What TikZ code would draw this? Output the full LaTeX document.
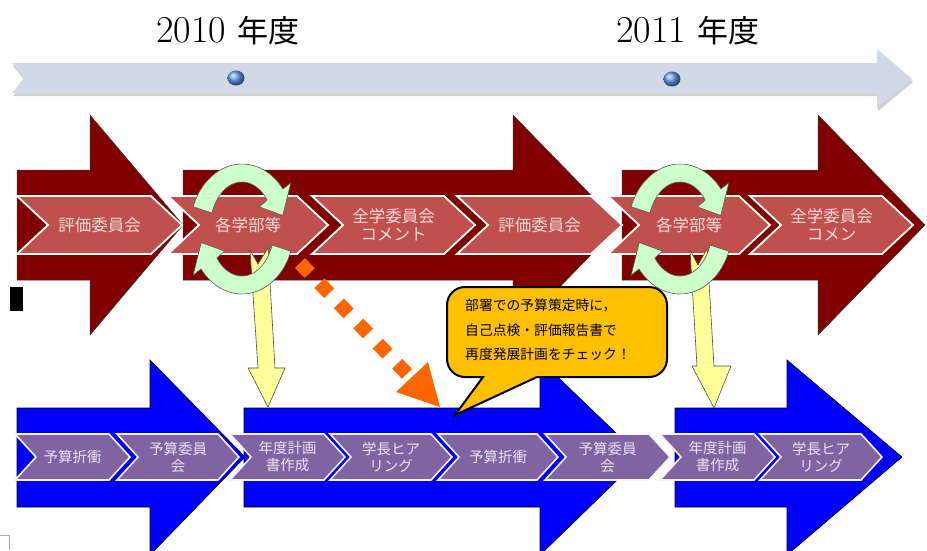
\documentclass[tikz,border=0pt]{standalone}
\usepackage{fontspec}
\newfontfamily\jp{Noto Sans CJK JP}
\definecolor{tlc}{RGB}{209,217,232}
\definecolor{maroonA}{RGB}{128,0,0}
\definecolor{chevRc}{RGB}{192,80,77}
\definecolor{chevPc}{RGB}{128,100,162}
\definecolor{txtRc}{RGB}{242,220,219}
\definecolor{txtPc}{RGB}{232,226,240}
\definecolor{grnc}{RGB}{204,255,204}
\definecolor{ylwc}{RGB}{255,255,153}
\definecolor{orgc}{RGB}{255,102,0}
\definecolor{bubc}{RGB}{255,192,0}
\definecolor{bluc}{RGB}{0,0,255}
\definecolor{dotc}{RGB}{100,160,235}
\tikzset{
  bigred/.style={fill=maroonA, draw=black!80, line width=0.5},
  bigblue/.style={fill=bluc, draw=black, line width=0.6},
  redchev/.style={fill=chevRc, draw=white, line width=1.8},
  purchev/.style={fill=chevPc, draw=white!92!chevPc, line width=1.6},
  redtxt/.style={text=txtRc, font=\jp\fontsize{16.5}{18}\selectfont, align=center, inner sep=0},
  purtxt/.style={text=txtPc, font=\jp\fontsize{14.5}{17}\selectfont, align=center, inner sep=0},
  grnarc/.style={fill=grnc, draw=black!65, line width=0.6},
  ylwarrow/.style={fill=ylwc, draw=black!70, line width=0.6},
  yeartxt/.style={inner sep=0, text=black},
}
\newcommand{\mkredchev}[4]{%
  \filldraw[redchev] (#1,196) -- ({#2-31},196) -- (#2,225) -- ({#2-31},254) -- (#1,254) -- ({#1+31},225) -- cycle;
  \node[redtxt] (#4) at ({(#1+#2)/2},225) {#3};}
\newcommand{\mkpurchev}[4]{%
  \filldraw[purchev] (#1,434) -- ({#2-21},434) -- (#2,457) -- ({#2-21},480) -- (#1,480) -- ({#1+21},457) -- cycle;
  \node[purtxt] (#4) at ({(#1+#2)/2},457) {#3};}
\newcommand{\mkgreenarc}[5]{%
  \begin{scope}[shift={(#1,#2)}]
  \filldraw[grnarc] (#3:52 and 65) arc[start angle=#3, end angle=#4, x radius=52, y radius=65]
    -- (#4:62 and 75) -- (#5:42 and 56) -- (#4:22 and 36) -- (#4:32 and 47)
    arc[start angle=#4, end angle=#3, x radius=32, y radius=47] -- cycle;
  \end{scope}}
\begin{document}
\begin{tikzpicture}[x=1pt,y=-1pt]
\useasboundingbox (0,0) rectangle (927,550);
\clip (0,0) rectangle (927,550);
\fill[white] (0,0) rectangle (927,550);

% year labels
\node[yeartxt] (y2010) at (228,31) {\fontsize{38}{40}\selectfont 2010 {\jp\fontsize{31}{34}\selectfont 年度}};
\node[yeartxt] (y2011) at (688,31) {\fontsize{38}{40}\selectfont 2011 {\jp\fontsize{31}{34}\selectfont 年度}};

% timeline
\fill[black!18] (13,66) -- (878,66) -- (878,52) -- (913,82) -- (878,111) -- (878,96) -- (13,96) -- (25,81) -- cycle;
\fill[tlc] (12,63) -- (877,63) -- (877,49) -- (912,79) -- (877,108) -- (877,93) -- (12,93) -- (24,78) -- cycle;
\shade[ball color=dotc] (236,78) ellipse[x radius=8.5, y radius=7.5];
\shade[ball color=dotc] (672,79) ellipse[x radius=8.5, y radius=7.5];

% big red arrows
\filldraw[bigred] (17,170) -- (90,170) -- (90,115) -- (183,225) -- (90,335) -- (90,280) -- (17,280) -- cycle;
\filldraw[bigred] (183,170) -- (513,170) -- (513,115) -- (620,225) -- (513,335) -- (513,280) -- (183,280) -- cycle;
\filldraw[bigred] (622,170) -- (818,170) -- (818,115) -- (925,225) -- (818,335) -- (818,280) -- (622,280) -- cycle;

% big blue arrows
\filldraw[bigblue] (17,408) -- (150,408) -- (150,360) -- (245,457) -- (150,555) -- (150,507) -- (17,507) -- cycle;
\filldraw[bigblue] (244,408) -- (540,408) -- (540,360) -- (641,457) -- (540,555) -- (540,507) -- (244,507) -- cycle;
\filldraw[bigblue] (675,408) -- (787,408) -- (787,360) -- (902,457) -- (787,555) -- (787,507) -- (675,507) -- cycle;

% red chevrons
\mkredchev{17}{182}{評価委員会}{r1}
\mkredchev{168}{328}{各学部等}{r2}
\mkredchev{312}{475}{全学委員会\\コメント}{r3}
\mkredchev{457}{622}{評価委員会}{r4}
\mkredchev{608}{770}{各学部等}{r5}
\mkredchev{750}{913}{全学委員会\\コメン}{r6}

% purple chevrons
\mkpurchev{15}{130}{予算折衝}{p1}
\mkpurchev{117}{239}{予算委員\\会}{p2}
\mkpurchev{230}{345}{年度計画\\書作成}{p3}
\mkpurchev{330}{452}{学長ヒア\\リング}{p4}
\mkpurchev{438}{558}{予算折衝}{p5}
\mkpurchev{545}{670}{予算委員\\会}{p6}
\mkpurchev{660}{775}{年度計画\\書作成}{p7}
\mkpurchev{760}{882}{学長ヒア\\リング}{p8}

% yellow arrows
\filldraw[ylwarrow] (250,250) -- (258,264) -- (268,248) -- (275,368) -- (285,368) -- (268,407) -- (248,368) -- (258,368) -- cycle;
\filldraw[ylwarrow] (690,250) -- (698,265) -- (707,249) -- (714,366) -- (731,366) -- (714,408) -- (692,366) -- (697,366) -- cycle;

% green circular arrows
\mkgreenarc{242}{229}{-160}{-38}{-14}
\mkgreenarc{242}{229}{20}{142}{166}
\mkgreenarc{680}{229}{-160}{-38}{-14}
\mkgreenarc{680}{229}{20}{142}{166}

% orange dotted arrow
\coordinate (os) at (300,263);
\coordinate (oe) at (409,376);
\coordinate (ow1) at (396,392);
\coordinate (ow2) at (428,362);
\coordinate (otip) at (440,407);
\draw[orgc, line width=14, dash pattern=on 14pt off 14pt] (os) -- (oe);
\fill[orgc] (ow1) -- (otip) -- (ow2) -- cycle;

% speech bubble
\filldraw[fill=bubc, draw=black, line width=2]
  (465,287) -- (649,287) arc[start angle=-90, end angle=0, radius=18]
  -- (667,359) arc[start angle=0, end angle=90, radius=18]
  -- (537,377) -- (455,415) -- (483,377) -- (465,377)
  arc[start angle=90, end angle=180, radius=18]
  -- (447,305) arc[start angle=180, end angle=270, radius=18] -- cycle;
\node[anchor=west, align=left, inner sep=0, font=\jp\fontsize{13.8}{24.5}\selectfont] (btext) at (465,330)
  {部署での予算策定時に，\\自己点検・評価報告書で\\再度発展計画をチェック！};

% small marks
\fill[black] (10,287) rectangle (23,311);
\draw[black!35, line width=0.6] (0,535.5) -- (9.5,535.5) -- (9.5,550);
\end{tikzpicture}
\end{document}
